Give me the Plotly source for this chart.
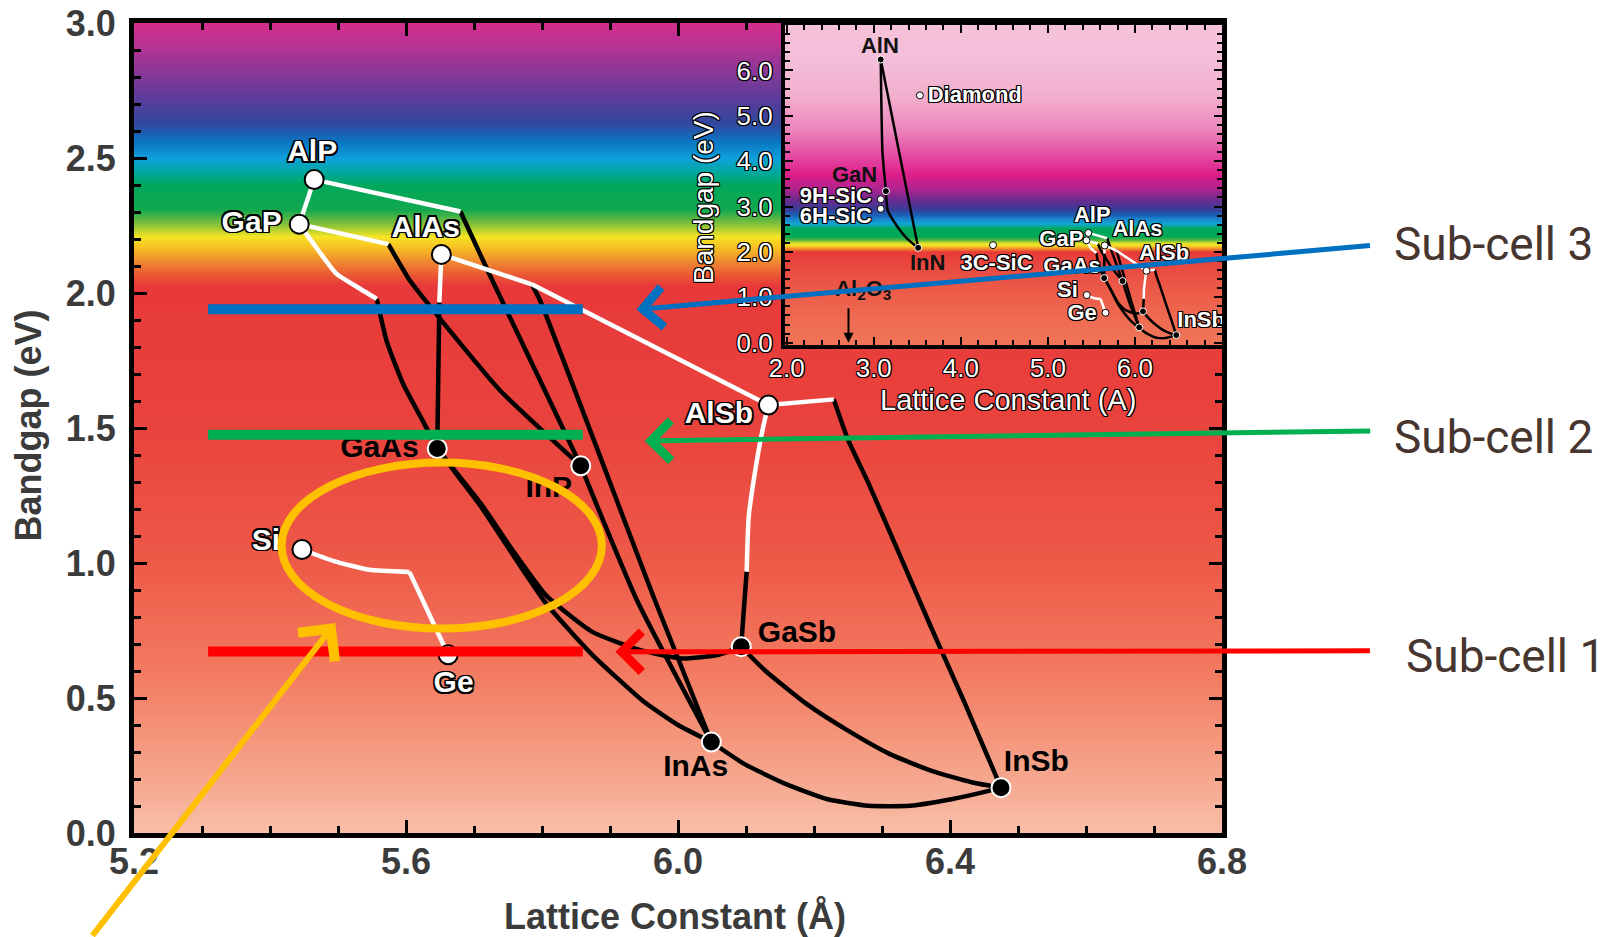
import numpy as np
import plotly.graph_objects as go

# ---------------- data (main chart) ----------------
mat_names = ["AlP", "GaP", "AlAs", "GaAs", "InP", "AlSb", "GaSb", "InAs", "InSb", "Si", "Ge"]
mat_a = [5.465, 5.443, 5.652, 5.646, 5.857, 6.133, 6.093, 6.049, 6.475, 5.447, 5.662]
mat_eg = [2.42, 2.255, 2.143, 1.424, 1.36, 1.585, 0.69, 0.337, 0.168, 1.05, 0.66]
mat_direct = [False, False, False, True, True, False, True, True, True, False, False]

# label anchors for the main chart (lattice constant, bandgap)
lab_x = [5.462, 5.373, 5.629, 5.561, 5.810, 6.060, 6.175, 6.026, 6.527, 5.394, 5.670]
lab_y = [2.515, 2.255, 2.236, 1.420, 1.274, 1.545, 0.736, 0.240, 0.259, 1.076, 0.549]

# alloy curves: indirect-gap parts (white) and direct-gap parts (black)
AlP_GaP_ind = [(5.465, 2.42), (5.443, 2.255)]
AlP_InP_ind = [(5.465, 2.42), (5.680, 2.302)]
AlP_InP_dir = [(5.680, 2.302), (5.722, 2.073), (5.857, 1.36)]
InP_InAs_dir = [(5.857, 1.36), (5.94, 0.86), (6.049, 0.337)]
GaP_InP_ind = [(5.443, 2.255), (5.574, 2.181)]
GaP_InP_dir = [(5.574, 2.181), (5.606, 2.045), (5.650, 1.905), (5.738, 1.64), (5.857, 1.36)]
GaP_GaAs_ind = [(5.443, 2.255), (5.467, 2.172), (5.497, 2.073), (5.527, 2.024), (5.557, 1.978)]
GaP_GaAs_dir = [(5.557, 1.978), (5.572, 1.818), (5.596, 1.662), (5.626, 1.52), (5.646, 1.424)]
AlAs_GaAs_ind = [(5.652, 2.143), (5.649, 1.965)]
AlAs_GaAs_dir = [(5.649, 1.965), (5.646, 1.424)]
AlAs_InAs_ind = [(5.652, 2.143), (5.785, 2.032)]
AlAs_InAs_dir = [(5.785, 2.032), (5.797, 1.973), (5.966, 0.862), (6.049, 0.337)]
AlAs_AlSb_ind = [(5.785, 2.032), (6.133, 1.585)]
GaAs_InAs_dir = [(5.646, 1.424), (5.68, 1.31), (5.71, 1.21), (5.752, 1.05), (5.806, 0.85),
                 (5.874, 0.66), (5.948, 0.49), (6.00, 0.40), (6.049, 0.337)]
GaAs_GaSb_dir = [(5.646, 1.424), (5.682, 1.31), (5.713, 1.21), (5.756, 1.05), (5.806, 0.88),
                 (5.874, 0.745), (5.945, 0.677), (6.006, 0.646), (6.060, 0.66), (6.093, 0.69)]
AlSb_GaSb_ind = [(6.133, 1.585), (6.125, 1.501), (6.113, 1.333), (6.104, 1.172), (6.101, 0.968)]
AlSb_GaSb_dir = [(6.101, 0.968), (6.096, 0.80), (6.093, 0.69)]
AlSb_InSb_ind = [(6.133, 1.585), (6.229, 1.606)]
AlSb_InSb_dir = [(6.229, 1.606), (6.25, 1.457), (6.280, 1.296), (6.323, 1.048), (6.372, 0.763),
                 (6.420, 0.491), (6.475, 0.168)]
GaSb_InSb_dir = [(6.093, 0.69), (6.128, 0.602), (6.189, 0.478), (6.250, 0.379), (6.311, 0.293),
                 (6.372, 0.231), (6.433, 0.187), (6.475, 0.168)]
InAs_InSb_dir = [(6.049, 0.337), (6.098, 0.255), (6.159, 0.181), (6.220, 0.125), (6.280, 0.101),
                 (6.341, 0.101), (6.402, 0.125), (6.457, 0.156), (6.475, 0.168)]
Si_Ge_a = [(5.447, 1.05), (5.494, 1.007), (5.546, 0.975), (5.605, 0.967)]
Si_Ge_b = [(5.605, 0.967), (5.662, 0.66)]

white_curves = [AlP_GaP_ind, AlP_InP_ind, GaP_InP_ind, GaP_GaAs_ind, AlAs_GaAs_ind,
                AlAs_InAs_ind, AlAs_AlSb_ind, AlSb_GaSb_ind, AlSb_InSb_ind, Si_Ge_a, Si_Ge_b]
black_curves = [AlP_InP_dir, InP_InAs_dir, GaP_InP_dir, GaP_GaAs_dir, AlAs_GaAs_dir,
                AlAs_InAs_dir, GaAs_InAs_dir, GaAs_GaSb_dir, AlSb_GaSb_dir, AlSb_InSb_dir,
                GaSb_InSb_dir, InAs_InSb_dir]

# sub-cell target bandgaps (eV) and the lattice-constant span of the bars
subcell_names = ["Sub-cell 1", "Sub-cell 2", "Sub-cell 3"]
subcell_eg = [0.672, 1.475, 1.94]
subcell_colors = ["#ff0000", "#00b050", "#0070c0"]
bar_a = [5.309, 5.860]

# ---------------- data (inset) ----------------
ins_names = ["AlN", "GaN", "InN", "Diamond", "9H-SiC", "6H-SiC", "3C-SiC"]
ins_a = [3.08, 3.14, 3.51, 3.53, 3.08, 3.08, 4.37]
ins_eg = [6.24, 3.34, 2.09, 5.45, 3.16, 2.95, 2.15]
ins_direct = [True, True, True, False, False, False, False]
AlN_InN = [(3.08, 6.24), (3.51, 2.09)]
AlN_GaN = [(3.08, 6.24), (3.10, 4.2), (3.14, 3.34)]
GaN_InN = [(3.14, 3.34), (3.16, 2.92), (3.27, 2.56), (3.38, 2.30), (3.51, 2.09)]
nitride_curves = [AlN_InN, AlN_GaN, GaN_InN]
al2o3_a = 2.71

ins_lab_names = ["AlN", "Diamond", "GaN", "9H-SiC", "6H-SiC", "InN", "3C-SiC",
                 "AlP", "GaP", "AlAs", "AlSb", "GaAs", "Si", "Ge", "InSb", "Al<sub>2</sub>O<sub>3</sub>"]
ins_lab_x = [3.07, 4.16, 2.78, 2.565, 2.565, 3.62, 4.41, 5.51, 5.155, 6.03, 6.336, 5.278, 5.225, 5.394, 6.76, 2.88]
ins_lab_y = [6.50, 5.43, 3.66, 3.20, 2.76, 1.72, 1.72, 2.79, 2.25, 2.47, 1.945, 1.65, 1.12, 0.616, 0.46, 1.16]
ins_lab_dark = [True, False, True, False, False, True, False, False, False, False, False, False,
                False, False, False, True]

# ---------------- styling ----------------
FONT = "Liberation Sans, Arial, sans-serif"
GREY = "#3b3b3b"
OUT = ", ".join(f"{dx}px {dy}px 0 #000" for dx, dy in
                [(-1.5, -1.5), (1.5, -1.5), (-1.5, 1.5), (1.5, 1.5), (0, 1.5), (0, -1.5), (1.5, 0), (-1.5, 0)])
OUT_S = ", ".join(f"{dx}px {dy}px 0 #000" for dx, dy in
                  [(-1, -1), (1, -1), (-1, 1), (1, 1), (0, 1), (0, -1), (1, 0), (-1, 0)])

main_stops = [(0.0, "#f8bea8"), (0.3, "#f59c82"), (0.6, "#f27a60"), (1.0, "#ee5a48"), (1.5, "#e9433d"),
              (2.03, "#e8393a"), (2.07, "#ea5a34"), (2.12, "#f08c30"), (2.17, "#f8c024"),
              (2.21, "#f4e424"), (2.26, "#7cbf3c"), (2.31, "#12a850"), (2.40, "#00a85a"),
              (2.45, "#00a8a0"), (2.50, "#10a0dc"), (2.56, "#0a76c4"), (2.63, "#33479e"),
              (2.72, "#5a3c9a"), (2.82, "#8a3898"), (2.92, "#b83292"), (3.0, "#d42e8e")]
ins_stops = [(-0.05, "#f07658"), (0.5, "#ef6c52"), (1.2, "#ec5a48"), (1.8, "#e8463e"), (2.0, "#e83c38"),
             (2.06, "#ee7a30"), (2.12, "#f6c828"), (2.18, "#f2e828"), (2.26, "#60b840"),
             (2.34, "#00a855"), (2.52, "#00a860"), (2.62, "#10a8d0"), (2.72, "#1a88d0"),
             (2.82, "#1a60b4"), (2.95, "#3a3c98"), (3.15, "#6c2c90"), (3.4, "#b0248e"),
             (3.7, "#de1e8a"), (4.1, "#e448a2"), (4.7, "#ec86bc"), (5.4, "#f2aecc"),
             (6.2, "#f4bed8"), (7.0, "#f5c2da")]

def cscale(stops):
    lo, hi = stops[0][0], stops[-1][0]
    return [[(v - lo) / (hi - lo), c] for v, c in stops]

def flat(curves):
    xs, ys = [], []
    for c in curves:
        xs += [p[0] for p in c] + [None]
        ys += [p[1] for p in c] + [None]
    return xs, ys

fig = go.Figure()

# --- main background gradient
bg_y = np.linspace(0, 3, 601)
fig.add_trace(go.Heatmap(x=[5.1, 6.9], y=bg_y, z=[[v, v] for v in bg_y], colorscale=cscale(main_stops),
                         zmin=0, zmax=3, showscale=False, zsmooth="best", hoverinfo="skip"))

# --- main curves
wx, wy = flat(white_curves)
bx, by = flat(black_curves)
fig.add_trace(go.Scatter(x=bx, y=by, mode="lines", line=dict(color="black", width=4.5, shape="spline", smoothing=0.5)))
fig.add_trace(go.Scatter(x=wx, y=wy, mode="lines", line=dict(color="white", width=4.5, shape="spline", smoothing=0.5)))

# --- main markers
fig.add_trace(go.Scatter(
    x=mat_a, y=mat_eg, mode="markers",
    marker=dict(size=19, color=["black" if d else "white" for d in mat_direct],
                line=dict(color=["white" if d else "black" for d in mat_direct], width=2))))

# --- main labels
for dark in (True, False):
    idx = [i for i, d in enumerate(mat_direct) if d == dark]
    fig.add_trace(go.Scatter(
        x=[lab_x[i] for i in idx], y=[lab_y[i] for i in idx], text=[mat_names[i] for i in idx],
        mode="text", textposition="middle center",
        textfont=dict(family=FONT, size=30, weight="bold", color="black" if dark else "white",
                      shadow="none" if dark else OUT)))

# --- sub-cell bars
for eg, col in zip(subcell_eg, subcell_colors):
    fig.add_trace(go.Scatter(x=bar_a, y=[eg, eg], mode="lines", line=dict(color=col, width=10)))

# --- inset background
ins_y = np.linspace(-0.05, 7.0, 706)
fig.add_trace(go.Heatmap(x=[1.5, 7.5], y=ins_y, z=[[v, v] for v in ins_y], colorscale=cscale(ins_stops),
                         zmin=-0.05, zmax=7.0, showscale=False, zsmooth="best", hoverinfo="skip",
                         xaxis="x2", yaxis="y2"))
nx, ny = flat(nitride_curves + black_curves)
fig.add_trace(go.Scatter(x=nx, y=ny, mode="lines", xaxis="x2", yaxis="y2",
                         line=dict(color="black", width=2.5, shape="spline", smoothing=0.5)))
fig.add_trace(go.Scatter(x=wx, y=wy, mode="lines", xaxis="x2", yaxis="y2",
                         line=dict(color="white", width=2.5, shape="spline", smoothing=0.5)))
all_a = ins_a + mat_a
all_eg = ins_eg + mat_eg
all_dir = ins_direct + mat_direct
fig.add_trace(go.Scatter(
    x=all_a, y=all_eg, mode="markers", xaxis="x2", yaxis="y2",
    marker=dict(size=7, color=["black" if d else "white" for d in all_dir],
                line=dict(color=["white" if d else "black" for d in all_dir], width=1))))
for dark in (True, False):
    idx = [i for i, d in enumerate(ins_lab_dark) if d == dark]
    fig.add_trace(go.Scatter(
        x=[ins_lab_x[i] for i in idx], y=[ins_lab_y[i] for i in idx], text=[ins_lab_names[i] for i in idx],
        mode="text", textposition="middle center", xaxis="x2", yaxis="y2",
        textfont=dict(family=FONT, size=22, weight="bold", color="#111" if dark else "white",
                      shadow="none" if dark else OUT_S)))

# ---------------- axes ----------------
tickfont = dict(family=FONT, size=36, weight="bold", color=GREY)
ins_tickfont = dict(family=FONT, size=26, color="white", shadow=OUT_S)
fig.update_layout(
    width=1617, height=937, margin=dict(l=134, r=395, t=23, b=104, pad=0),
    paper_bgcolor="white", plot_bgcolor="white", showlegend=False, hovermode=False,
    xaxis=dict(domain=[0, 1], range=[5.2, 6.8], tick0=5.2, dtick=0.4, tickformat=".1f", automargin=False,
               ticks="inside", ticklen=13, tickwidth=3, tickcolor="black",
               minor=dict(dtick=0.1, tick0=5.2, ticks="inside", ticklen=7, tickwidth=2.5, tickcolor="black"),
               showline=True, linewidth=5, linecolor="black", mirror="ticks",
               showgrid=False, zeroline=False, tickfont=tickfont, ticklabelstandoff=-7),
    yaxis=dict(domain=[0, 1], range=[0, 3.0], tick0=0, dtick=0.5, tickformat=".1f", automargin=False,
               ticks="inside", ticklen=13, tickwidth=3, tickcolor="black",
               minor=dict(dtick=0.1, tick0=0, ticks="inside", ticklen=7, tickwidth=2.5, tickcolor="black"),
               showline=True, linewidth=5, linecolor="black", mirror="ticks",
               showgrid=False, zeroline=False, tickfont=tickfont, ticklabelstandoff=6),
    xaxis2=dict(domain=[0.5983, 1.0], anchor="y2", range=[1.98, 7.0], tickvals=[2, 3, 4, 5, 6],
                ticktext=["2.0", "3.0", "4.0", "5.0", "6.0"], automargin=False,
                ticks="inside", ticklen=8, tickwidth=2, tickcolor="black",
                minor=dict(dtick=0.2, tick0=2, ticks="inside", ticklen=5, tickwidth=1.5, tickcolor="black"),
                showline=True, linewidth=4, linecolor="black", mirror="ticks",
                showgrid=False, zeroline=False, ticklabelstandoff=-3, tickfont=ins_tickfont),
    yaxis2=dict(domain=[0.6025, 0.9975], anchor="x2", range=[-0.05, 7.0], tickvals=[0, 1, 2, 3, 4, 5, 6],
                ticktext=["0.0", "1.0", "2.0", "3.0", "4.0", "5.0", "6.0"], automargin=False,
                ticks="inside", ticklen=8, tickwidth=2, tickcolor="black",
                minor=dict(dtick=0.2, tick0=0, ticks="inside", ticklen=5, tickwidth=1.5, tickcolor="black"),
                showline=True, linewidth=4, linecolor="black", mirror="ticks",
                showgrid=False, zeroline=False, ticklabelstandoff=3, tickfont=ins_tickfont),
)

# ---------------- annotations ----------------
ann = []
ann.append(dict(text="Lattice Constant (Å)", xref="paper", yref="paper", x=0.497, y=-0.1025,
                xanchor="center", yanchor="middle", showarrow=False,
                font=dict(family=FONT, size=36, weight="bold", color=GREY)))
ann.append(dict(text="Bandgap (eV)", xref="paper", yref="paper", x=-0.0965, y=0.503, textangle=-90,
                xanchor="center", yanchor="middle", showarrow=False,
                font=dict(family=FONT, size=36, weight="bold", color=GREY)))
ann.append(dict(text="Lattice Constant (A)", xref="paper", yref="paper", x=0.8033, y=0.5346,
                xanchor="center", yanchor="middle", showarrow=False,
                font=dict(family=FONT, size=29, color="white", shadow=OUT_S)))
ann.append(dict(text="Bandgap (eV)", xref="paper", yref="paper", x=0.5239, y=0.784, textangle=-90,
                xanchor="center", yanchor="middle", showarrow=False,
                font=dict(family=FONT, size=28, color="white", shadow=OUT_S)))
# Al2O3 arrow in the inset
ann.append(dict(x=al2o3_a, y=0.0, xref="x2", yref="y2", ax=al2o3_a, ay=0.79, axref="x2", ayref="y2",
                text="", showarrow=True, arrowhead=2, arrowwidth=2, arrowcolor="black", arrowsize=1))
# sub-cell labels and arrows
tips = {"Sub-cell 3": (5.939, 1.939, 735, -64), "Sub-cell 2": (5.951, 1.452, 727, -10),
        "Sub-cell 1": (5.908, 0.671, 756, -1)}
lab_pos = {"Sub-cell 3": (1.1563, 0.7267), "Sub-cell 2": (1.1563, 0.4889), "Sub-cell 1": (1.1677, 0.2185)}
for name, col in zip(subcell_names, subcell_colors):
    tx, ty, ax, ay = tips[name]
    ann.append(dict(x=tx, y=ty, xref="x", yref="y", ax=ax, ay=ay, text="", showarrow=True,
                    arrowhead=4, arrowsize=1.55, arrowwidth=5, arrowcolor=col, standoff=0))
    px, py = lab_pos[name]
    ann.append(dict(text=name, xref="paper", yref="paper", x=px, y=py, xanchor="left", yanchor="middle",
                    showarrow=False, font=dict(family="Roboto, " + FONT, size=46, color="#46362f")))
# yellow arrow
ann.append(dict(x=5.496, y=0.778, xref="x", yref="y", ax=-244, ay=320, text="", showarrow=True,
                arrowhead=4, arrowsize=1.5, arrowwidth=6, arrowcolor="#ffc000", standoff=0))
fig.update_layout(annotations=ann)

# yellow ellipse
fig.add_shape(type="circle", xref="x", yref="y", x0=5.417, x1=5.888, y0=0.757, y1=1.372,
              line=dict(color="#ffc000", width=8), layer="above")

fig.write_html("out.html")
